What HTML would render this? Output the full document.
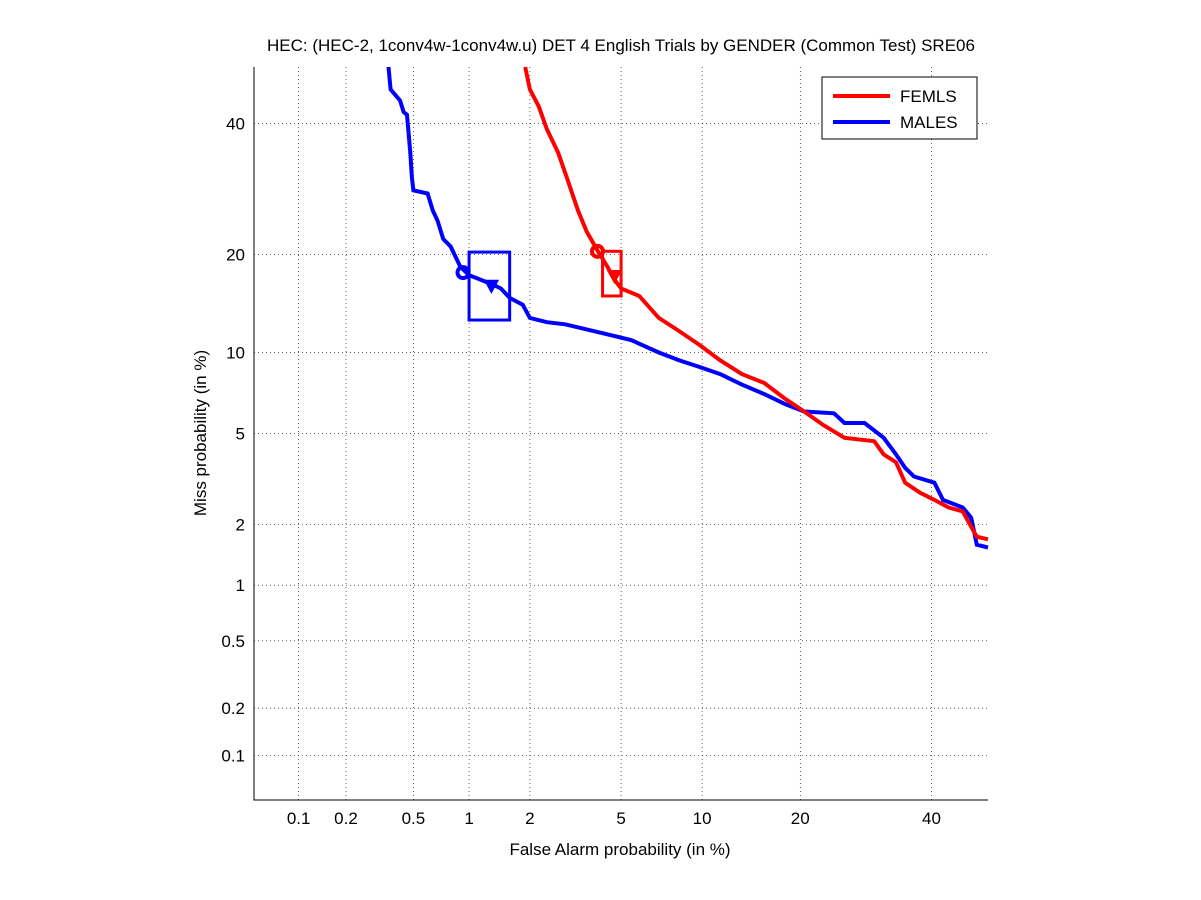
<!DOCTYPE html>
<html><head><meta charset="utf-8"><style>
body{margin:0;background:#fff;}
svg{display:block;font-family:"Liberation Sans",sans-serif;}
</style></head><body>
<svg id="chart" width="1201" height="900"></svg>
<script>
const xTicks=[0.1,0.2,0.5,1,2,5,10,20,40];
const yTicks=[0.1,0.2,0.5,1,2,5,10,20,40];
const femX=[1.9,2.0,2.2,2.4,2.7,2.95,3.3,3.6,4.0,4.4,4.7,5.0,5.9,7.0,8.3,9.8,11.5,13.5,15.8,18.2,20.5,23,26,30.5,32,34,35.5,38,40.5,43,45.5,47,48,50];
const femY=[50,46,43,39,35,31,26,23,20.5,18.5,17,16,15.2,13,11.8,10.6,9.4,8.4,7.8,6.8,6.1,5.4,4.8,4.65,4.1,3.8,3.1,2.8,2.6,2.4,2.3,1.95,1.75,1.7];
const malX=[0.36,0.37,0.42,0.44,0.46,0.48,0.49,0.5,0.6,0.64,0.68,0.73,0.8,0.9,1.0,1.3,1.45,1.6,1.85,2.0,2.4,2.9,4.2,5.5,7,8.3,9.8,11.5,13.5,15.8,18.2,20.5,24.5,26,29,32,34,35.5,37,40.5,42,45.5,47,48,50];
const malY=[50,46,44,42,41.5,35,31,29,28.5,26,24.5,22,21,18.5,17.5,16.5,16,15,14.3,13,12.6,12.4,11.6,11,10,9.4,8.9,8.4,7.7,7.1,6.5,6.1,6.0,5.5,5.5,4.8,4.1,3.6,3.3,3.1,2.6,2.4,2.15,1.6,1.55];
const femPoint=[4.0,20.4], femMin=[4.7,17.4], femBox=[4.2,5.0,15.2,20.4];
const malPoint=[0.93,17.8], malMin=[1.3,16.3], malBox=[1.0,1.6,12.8,20.3];

function ninv(p){
 const a=[-39.69683028665376,220.9460984245205,-275.9285104469687,138.3577518672690,-30.66479806614716,2.506628277459239];
 const b=[-54.47609879822406,161.5858368580409,-155.6989798598866,66.80131188771972,-13.28068155288572];
 const c=[-0.007784894002430293,-0.3223964580411365,-2.400758277161838,-2.549732539343734,4.374664141464968,2.938163982698783];
 const d=[0.007784695709041462,0.3224671290700398,2.445134137142996,3.754408661907416];
 const pl=0.02425;let q,r;
 if(p<pl){q=Math.sqrt(-2*Math.log(p));return (((((c[0]*q+c[1])*q+c[2])*q+c[3])*q+c[4])*q+c[5])/((((d[0]*q+d[1])*q+d[2])*q+d[3])*q+1);}
 if(p<=1-pl){q=p-0.5;r=q*q;return (((((a[0]*r+a[1])*r+a[2])*r+a[3])*r+a[4])*r+a[5])*q/(((((b[0]*r+b[1])*r+b[2])*r+b[3])*r+b[4])*r+1);}
 q=Math.sqrt(-2*Math.log(1-p));return -(((((c[0]*q+c[1])*q+c[2])*q+c[3])*q+c[4])*q+c[5])/((((d[0]*q+d[1])*q+d[2])*q+d[3])*q+1);
}
const L=254,R=988,T=67,B=800;
const zmin=ninv(0.0005),zmax=0;
const sx=v=>L+(ninv(v/100)-zmin)/(zmax-zmin)*(R-L);
const sy=v=>B-(ninv(v/100)-zmin)/(zmax-zmin)*(B-T);
const svg=document.getElementById('chart');
const NS='http://www.w3.org/2000/svg';
function mk(tag,attrs,parent){const e=document.createElementNS(NS,tag);for(const k in attrs)e.setAttribute(k,attrs[k]);(parent||svg).appendChild(e);return e;}

const axes=mk('rect',{x:L,y:T,width:R-L,height:B-T,fill:'#fff',stroke:'none'});



xTicks.forEach(v=>{
 const x=sx(v);
 const g=mk('line',{x1:x,x2:x,y1:T,y2:B,stroke:'#000','stroke-width':0.6,'stroke-dasharray':'1,3'});
 
 
 const t=mk('text',{x:x,y:824,'font-size':17,'text-anchor':'middle'});t.textContent=v;
 
 
});
yTicks.forEach(v=>{
 const y=sy(v);
 const g=mk('line',{x1:L,x2:R,y1:y,y2:y,stroke:'#000','stroke-width':0.6,'stroke-dasharray':'1,3'});
 
 
 const t=mk('text',{x:245,y:y+6,'font-size':17,'text-anchor':'end'});t.textContent=v;
 
 
});
const ax=mk('path',{d:`M${L},${T}V${B}H${R}`,fill:'none',stroke:'#000','stroke-width':1});



function series(xs,ys,col,name,pt,mn,box){
 const d=xs.map((v,i)=>(i?'L':'M')+sx(v).toFixed(1)+','+sy(ys[i]).toFixed(1)).join('');
 const p=mk('path',{d:d,fill:'none',stroke:col,'stroke-width':4,'stroke-linejoin':'miter'});
 
 
 const c=mk('circle',{cx:sx(pt[0]),cy:sy(pt[1]),r:5.5,fill:'none',stroke:col,'stroke-width':4});
 
 
 const tx=sx(mn[0]),ty=sy(mn[1]);
 const tr=mk('path',{d:`M${tx-6},${ty-5}L${tx+6},${ty-5}L${tx},${ty+6}Z`,fill:col,stroke:col,'stroke-width':2});
 
 
 const bx=mk('rect',{x:sx(box[0]),y:sy(box[3]),width:sx(box[1])-sx(box[0]),height:sy(box[2])-sy(box[3]),fill:'none',stroke:col,'stroke-width':3});
 
 
}
series(malX,malY,'#0000ff','males',malPoint,malMin,malBox);
series(femX,femY,'#ff0000','femls',femPoint,femMin,femBox);

const lg=mk('rect',{x:822,y:77,width:155,height:62,fill:'#fff',stroke:'#000','stroke-width':1});


[['FEMLS','#ff0000',96],['MALES','#0000ff',122]].forEach(([n,c,y])=>{
 const l=mk('line',{x1:833,x2:890,y1:y,y2:y,stroke:c,'stroke-width':4});
 
 
 const t=mk('text',{x:900,y:y+6,'font-size':17});t.textContent=n;
 
 
});

const ti=mk('text',{x:621,y:51,'font-size':17,'text-anchor':'middle'});
ti.textContent='HEC: (HEC-2, 1conv4w-1conv4w.u) DET 4 English Trials by GENDER (Common Test) SRE06';


const xl=mk('text',{x:620,y:855,'font-size':17,'text-anchor':'middle'});
xl.textContent='False Alarm probability (in %)';


const yl=mk('text',{x:0,y:0,'font-size':17,'text-anchor':'middle',transform:'translate(206,433) rotate(-90)'});
yl.textContent='Miss probability (in %)';


</script>
</body></html>
